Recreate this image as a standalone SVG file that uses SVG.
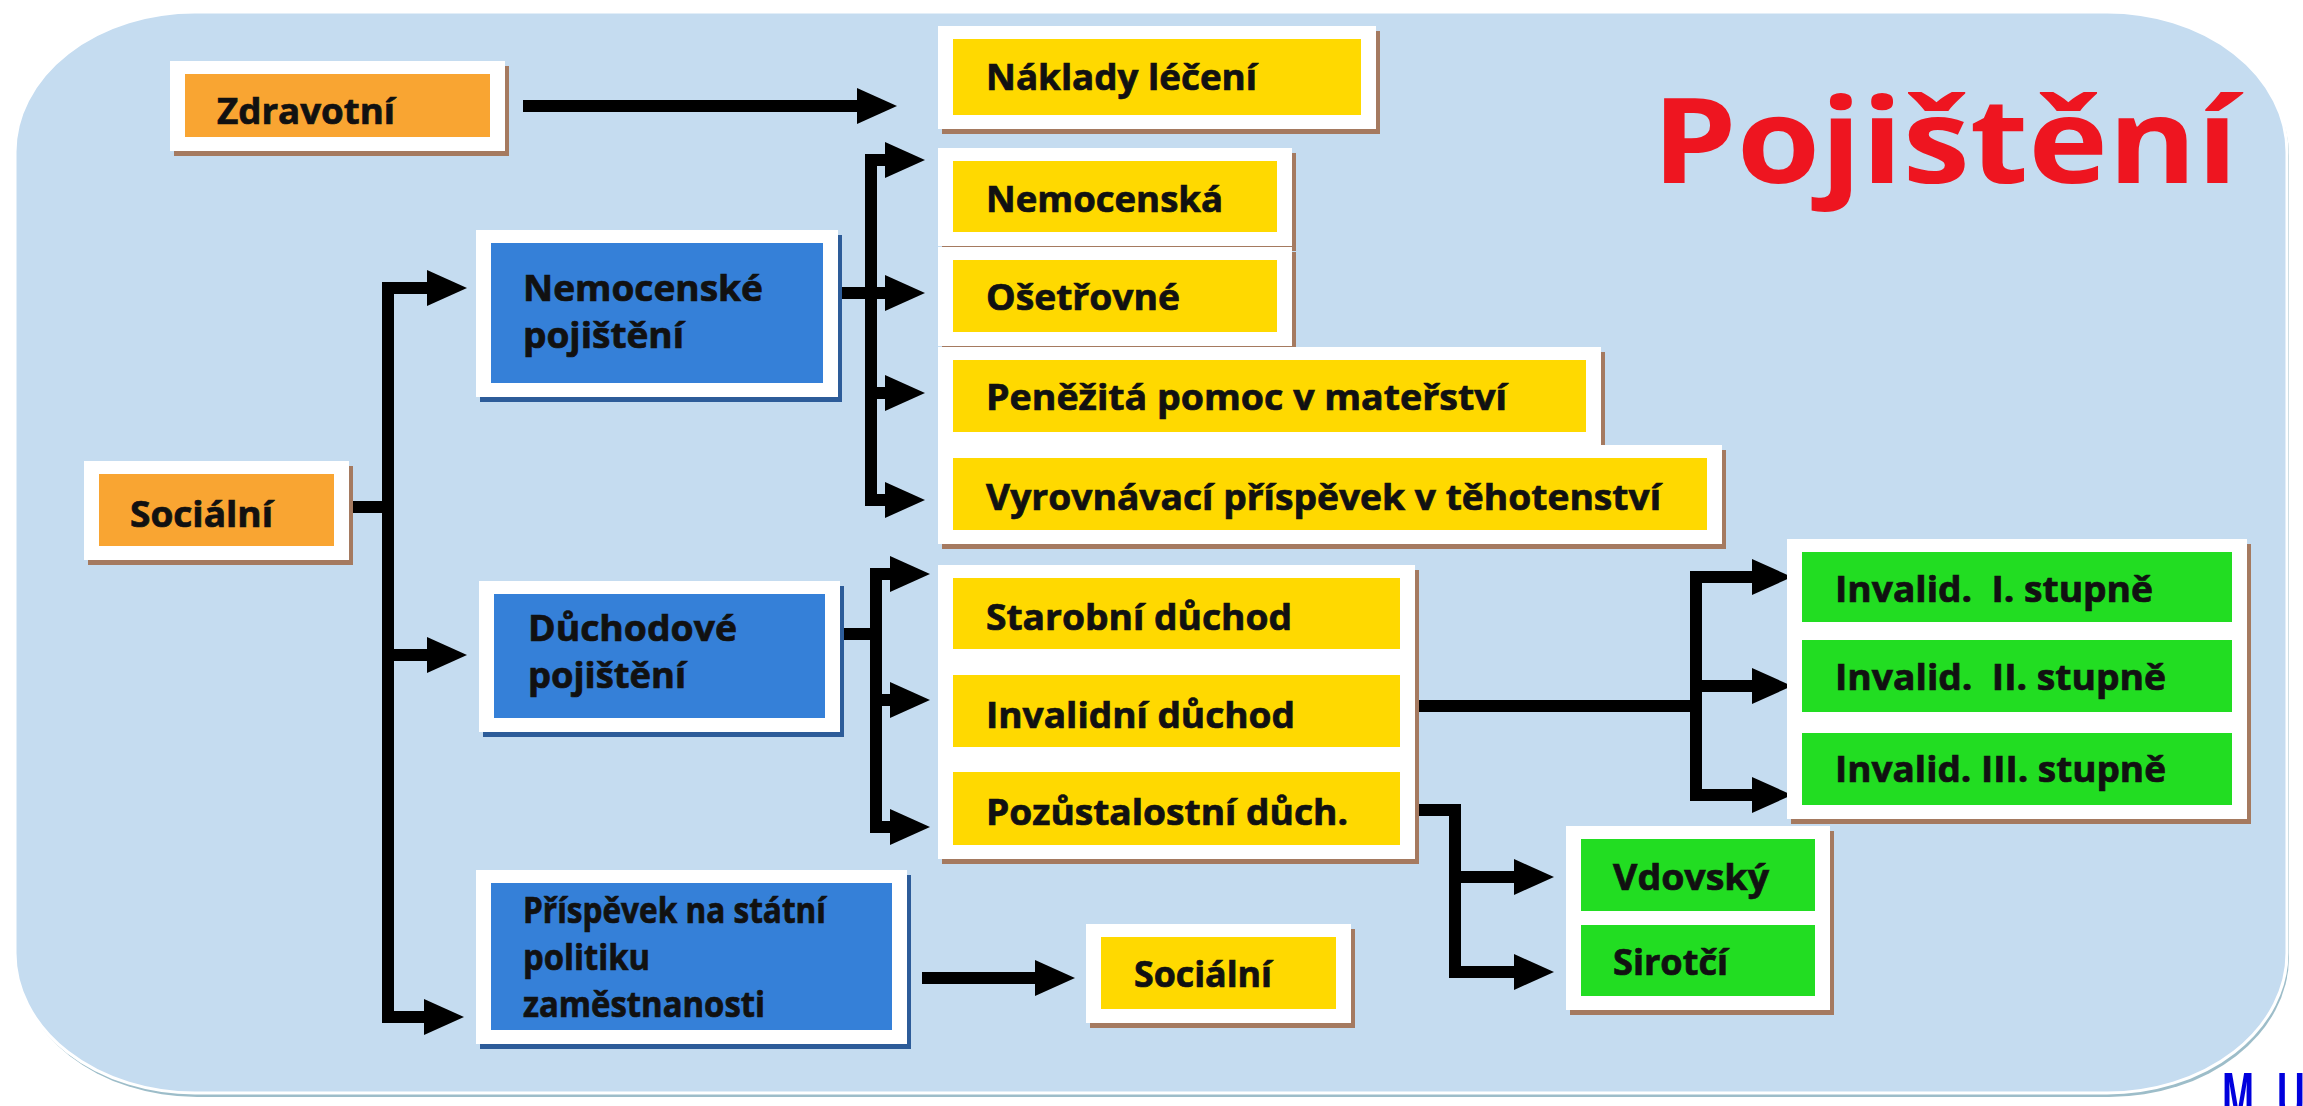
<svg xmlns="http://www.w3.org/2000/svg" width="2303" height="1106" viewBox="0 0 2303 1106">
<defs>
<style>
.w{fill:#ffffff}
.sh{fill:#a57a60}
.shb{fill:#2d5c99}
.o{fill:#f9a532}
.y{fill:#ffd900}
.b{fill:#3580d8}
.g{fill:#22dd22}
.t{font-family:"Open Sans","Liberation Sans",sans-serif;font-weight:700;font-size:35px;fill:#111111;stroke:#111111;stroke-width:0.7}
.c{fill:none;stroke:#000000;stroke-width:12;stroke-linejoin:miter;stroke-linecap:butt}
.a{marker-end:url(#ah)}
</style>
<marker id="ah" markerUnits="userSpaceOnUse" markerWidth="42" markerHeight="38" viewBox="0 0 42 38" refX="2" refY="18" orient="auto" overflow="visible">
<path d="M0,0 L40,18 L0,36 Z" fill="#000000"/>
</marker>
</defs>
<rect x="0" y="0" width="2303" height="1106" fill="#ffffff"/>
<g id="panel">
<path d="M195,12 H2107 A180,140 0 0 1 2287,152 V953 A180,140 0 0 1 2107,1093 H195 A180,140 0 0 1 15,953 V152 A180,140 0 0 1 195,12 Z" fill="#9dbdc9" transform="translate(2,4)"/>
<path d="M195,12 H2107 A180,140 0 0 1 2287,152 V953 A180,140 0 0 1 2107,1093 H195 A180,140 0 0 1 15,953 V152 A180,140 0 0 1 195,12 Z" fill="#c5dcf0" stroke="#ffffff" stroke-width="3"/>
</g>
<text id="title" x="1652" y="183" font-family="'Open Sans','Liberation Sans',sans-serif" font-weight="700" font-size="118" fill="#ee1520" textLength="586" lengthAdjust="spacingAndGlyphs">Pojištění</text>

<g id="connectors">
<path class="c a" d="M523,106 H859"/>
<path class="c" d="M349,507 H388"/>
<path class="c a" d="M388,507 V288 H429"/>
<path class="c a" d="M388,655 H429"/>
<path class="c a" d="M388,507 V1017 H426"/>
<path class="c" d="M838,293 H871"/>
<path class="c a" d="M871,293 V160 H887"/>
<path class="c a" d="M871,293 H887"/>
<path class="c a" d="M871,293 V393 H887"/>
<path class="c a" d="M871,293 V500 H887"/>
<path class="c" d="M840,634 H876"/>
<path class="c a" d="M876,634 V574 H892"/>
<path class="c a" d="M876,634 V700 H892"/>
<path class="c a" d="M876,634 V827 H892"/>
<path class="c" d="M1415,706 H1696"/>
<path class="c a" d="M1696,706 V577 H1754"/>
<path class="c a" d="M1696,706 V686 H1754"/>
<path class="c a" d="M1696,706 V795 H1754"/>
<path class="c a" d="M1415,810 H1455 V877 H1516"/>
<path class="c a" d="M1455,877 V972 H1516"/>
<path class="c a" d="M922,978 H1037"/>
</g>

<g id="n-zdravotni">
<rect class="sh" x="174" y="66" width="335" height="90"/>
<rect class="w" x="170" y="61" width="335" height="90"/>
<rect class="o" x="185" y="74" width="305" height="63"/>
<text class="t" x="217" y="124" textLength="178" lengthAdjust="spacingAndGlyphs">Zdravotní</text>
</g>
<g id="n-socialni">
<rect class="sh" x="88" y="466" width="265" height="99"/>
<rect class="w" x="84" y="461" width="265" height="99"/>
<rect class="o" x="99" y="474" width="235" height="72"/>
<text class="t" x="130" y="527" textLength="143" lengthAdjust="spacingAndGlyphs">Sociální</text>
</g>
<g id="n-nemocenske">
<rect class="shb" x="480" y="235" width="362" height="167"/>
<rect class="w" x="476" y="230" width="362" height="167"/>
<rect class="b" x="491" y="243" width="332" height="140"/>
<text class="t"><tspan x="523" y="301" textLength="240" lengthAdjust="spacingAndGlyphs">Nemocenské</tspan><tspan x="523" y="348" textLength="161" lengthAdjust="spacingAndGlyphs">pojištění</tspan></text>
</g>
<g id="n-duchodove">
<rect class="shb" x="483" y="586" width="361" height="151"/>
<rect class="w" x="479" y="581" width="361" height="151"/>
<rect class="b" x="494" y="594" width="331" height="124"/>
<text class="t"><tspan x="528" y="641" textLength="209" lengthAdjust="spacingAndGlyphs">Důchodové</tspan><tspan x="528" y="688" textLength="158" lengthAdjust="spacingAndGlyphs">pojištění</tspan></text>
</g>
<g id="n-prispevek">
<rect class="shb" x="480" y="875" width="431" height="174"/>
<rect class="w" x="476" y="870" width="431" height="174"/>
<rect class="b" x="491" y="883" width="401" height="147"/>
<text class="t"><tspan x="523" y="923" textLength="303" lengthAdjust="spacingAndGlyphs">Příspěvek na státní</tspan><tspan x="523" y="970" textLength="127" lengthAdjust="spacingAndGlyphs">politiku</tspan><tspan x="523" y="1017" textLength="242" lengthAdjust="spacingAndGlyphs">zaměstnanosti</tspan></text>
</g>
<g id="n-naklady">
<rect class="sh" x="942" y="31" width="438" height="103"/>
<rect class="w" x="938" y="26" width="438" height="103"/>
<rect class="y" x="953" y="39" width="408" height="76"/>
<text class="t" x="986" y="90" textLength="271" lengthAdjust="spacingAndGlyphs">Náklady léčení</text>
</g>
<g id="n-nemocenska">
<rect class="sh" x="942" y="153" width="354" height="98"/>
<rect class="w" x="938" y="148" width="354" height="98"/>
<rect class="y" x="953" y="161" width="324" height="71"/>
<text class="t" x="986" y="212" textLength="237" lengthAdjust="spacingAndGlyphs">Nemocenská</text>
</g>
<g id="n-osetrovne">
<rect class="sh" x="942" y="252" width="354" height="99"/>
<rect class="w" x="938" y="247" width="354" height="99"/>
<rect class="y" x="953" y="260" width="324" height="72"/>
<text class="t" x="986" y="310" textLength="194" lengthAdjust="spacingAndGlyphs">Ošetřovné</text>
</g>
<g id="n-penezita">
<rect class="sh" x="942" y="352" width="663" height="99"/>
<rect class="w" x="938" y="347" width="663" height="99"/>
<rect class="y" x="953" y="360" width="633" height="72"/>
<text class="t" x="986" y="410" textLength="521" lengthAdjust="spacingAndGlyphs">Peněžitá pomoc v mateřství</text>
</g>
<g id="n-vyrovnavaci">
<rect class="sh" x="942" y="450" width="784" height="99"/>
<rect class="w" x="938" y="445" width="784" height="99"/>
<rect class="y" x="953" y="458" width="754" height="72"/>
<text class="t" x="986" y="510" textLength="675" lengthAdjust="spacingAndGlyphs">Vyrovnávací příspěvek v těhotenství</text>
</g>
<g id="n-starobni">
<rect class="sh" x="942" y="570" width="477" height="98"/>
<rect class="w" x="938" y="565" width="477" height="98"/>
<rect class="y" x="953" y="578" width="447" height="71"/>
<text class="t" x="986" y="630" textLength="306" lengthAdjust="spacingAndGlyphs">Starobní důchod</text>
</g>
<g id="n-invalidni">
<rect class="sh" x="942" y="667" width="477" height="99"/>
<rect class="w" x="938" y="662" width="477" height="99"/>
<rect class="y" x="953" y="675" width="447" height="72"/>
<text class="t" x="986" y="728" textLength="309" lengthAdjust="spacingAndGlyphs">Invalidní důchod</text>
</g>
<g id="n-pozustalostni">
<rect class="sh" x="942" y="764" width="477" height="100"/>
<rect class="w" x="938" y="759" width="477" height="100"/>
<rect class="y" x="953" y="772" width="447" height="73"/>
<text class="t" x="986" y="825" textLength="362" lengthAdjust="spacingAndGlyphs">Pozůstalostní důch.</text>
</g>
<g id="n-socialni2">
<rect class="sh" x="1090" y="929" width="265" height="99"/>
<rect class="w" x="1086" y="924" width="265" height="99"/>
<rect class="y" x="1101" y="937" width="235" height="72"/>
<text class="t" x="1134" y="987" textLength="138" lengthAdjust="spacingAndGlyphs">Sociální</text>
</g>
<g id="n-invalid1">
<rect class="sh" x="1791" y="544" width="460" height="97"/>
<rect class="w" x="1787" y="539" width="460" height="97"/>
<rect class="g" x="1802" y="552" width="430" height="70"/>
<text class="t" x="1835" y="602" textLength="318" lengthAdjust="spacingAndGlyphs" xml:space="preserve">Invalid.  I. stupně</text>
</g>
<g id="n-invalid2">
<rect class="sh" x="1791" y="632" width="460" height="99"/>
<rect class="w" x="1787" y="627" width="460" height="99"/>
<rect class="g" x="1802" y="640" width="430" height="72"/>
<text class="t" x="1835" y="690" textLength="331" lengthAdjust="spacingAndGlyphs" xml:space="preserve">Invalid.  II. stupně</text>
</g>
<g id="n-invalid3">
<rect class="sh" x="1791" y="725" width="460" height="99"/>
<rect class="w" x="1787" y="720" width="460" height="99"/>
<rect class="g" x="1802" y="733" width="430" height="72"/>
<text class="t" x="1835" y="782" textLength="331" lengthAdjust="spacingAndGlyphs">Invalid. III. stupně</text>
</g>
<g id="n-vdovsky">
<rect class="sh" x="1570" y="831" width="264" height="99"/>
<rect class="w" x="1566" y="826" width="264" height="99"/>
<rect class="g" x="1581" y="839" width="234" height="72"/>
<text class="t" x="1613" y="890" textLength="156" lengthAdjust="spacingAndGlyphs">Vdovský</text>
</g>
<g id="n-sirotci">
<rect class="sh" x="1570" y="917" width="264" height="98"/>
<rect class="w" x="1566" y="912" width="264" height="98"/>
<rect class="g" x="1581" y="925" width="234" height="71"/>
<text class="t" x="1613" y="975" textLength="115" lengthAdjust="spacingAndGlyphs">Sirotčí</text>
</g>
<text id="mu" transform="translate(2222,1122) scale(0.55,1)" x="0 58 100" y="0" font-family="'Liberation Sans',sans-serif" font-weight="700" font-size="70" fill="#0000dd">M U</text>
</svg>
